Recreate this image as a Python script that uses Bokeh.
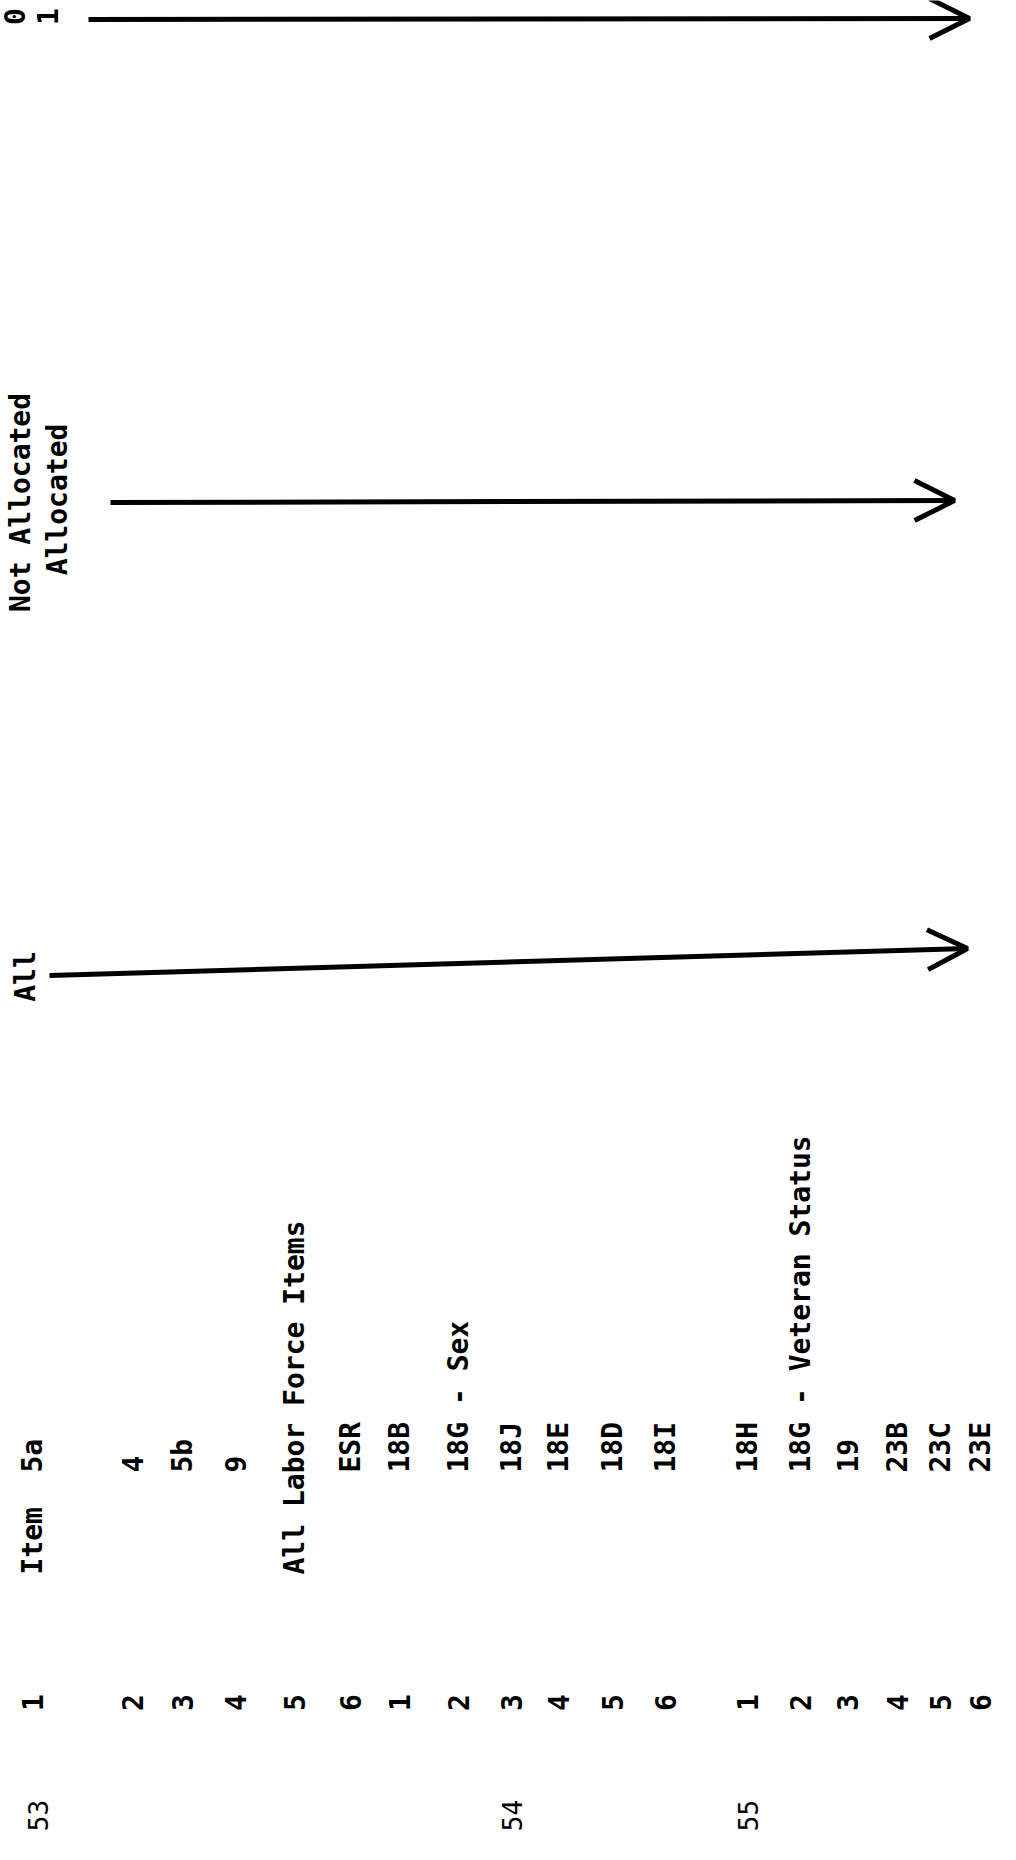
import math
from bokeh.plotting import figure
from bokeh.models import Range1d, ColumnDataSource, Arrow, OpenHead
from bokeh.core.properties import value
from bokeh.embed import file_html
from bokeh.resources import INLINE

# ---------------- data ----------------
group_labels = ["53", "54", "55"]
row_numbers = ["1", "2", "3", "4", "5", "6",
               "1", "2", "3", "4", "5", "6",
               "1", "2", "3", "4", "5", "6"]
row_headings = ["Item", "", "", "", "All Labor Force Items", "",
                "", "", "", "", "", "",
                "", "", "", "", "", ""]
row_codes = ["5a", "4", "5b", "9", "", "ESR",
             "18B", "18G - Sex", "18J", "18E", "18D", "18I",
             "18H", "18G - Veteran Status", "19", "23B", "23C", "23E"]
arrow_labels = [["0", "1"], ["Not Allocated", "Allocated"], ["All"]]

# ---------------- layout (page pixels) ----------------
ROW_X = [40, 140, 190, 243, 302, 358,
         407, 466, 519, 566, 620, 673,
         755, 808, 855, 905, 948, 988]
GROUP_X = [45, 519, 755]
Y_NUM = 1710
Y_HEAD = 1582
Y_CODE = 1480
Y_GROUP = 1823

ARROW_START = [(96, 27), (118, 510), (57, 983)]
ARROW_END = [(977, 26), (962, 508), (975, 956)]
LABEL_POS = [[(22, 24), (55, 24)], [(28, 510), (65, 507)], [(33, 984)]]

FONT = value("DejaVu Sans Mono")
INK = "#000000"

p = figure(width=1000, height=1844, output_backend="svg", toolbar_location=None,
           x_range=Range1d(8, 1008), y_range=Range1d(1852, 8),
           min_border=0, outline_line_color=None, background_fill_color="white",
           border_fill_color="white")
p.axis.visible = False
p.grid.visible = False

# arrows
arrow_src = ColumnDataSource(dict(
    x0=[s[0] for s in ARROW_START], y0=[s[1] for s in ARROW_START],
    x1=[e[0] for e in ARROW_END], y1=[e[1] for e in ARROW_END]))
p.add_layout(Arrow(end=OpenHead(size=40, line_width=5, line_color=INK),
                   x_start="x0", y_start="y0", x_end="x1", y_end="y1",
                   source=arrow_src, line_width=5, line_color=INK))

# arrow labels
lx, ly, lt = [], [], []
for labels, pos in zip(arrow_labels, LABEL_POS):
    for t, (x, y) in zip(labels, pos):
        lx.append(x); ly.append(y); lt.append(t)
p.text(x=lx, y=ly, text=lt, angle=math.pi / 2, text_align="center",
       text_baseline="middle", text_font=FONT, text_font_style="bold",
       text_font_size="28px", text_color=INK)

# row numbers
p.text(x=ROW_X, y=[Y_NUM] * len(ROW_X), text=row_numbers, angle=math.pi / 2,
       text_align="center", text_baseline="middle", text_font=FONT,
       text_font_style="bold", text_font_size="28px", text_color=INK)

# headings
hx = [x for x, t in zip(ROW_X, row_headings) if t]
ht = [t for t in row_headings if t]
p.text(x=hx, y=[Y_HEAD] * len(hx), text=ht, angle=math.pi / 2,
       text_align="left", text_baseline="middle", text_font=FONT,
       text_font_style="bold", text_font_size="28px", text_color=INK)

# codes
cx = [x for x, t in zip(ROW_X, row_codes) if t]
ct = [t for t in row_codes if t]
p.text(x=cx, y=[Y_CODE] * len(cx), text=ct, angle=math.pi / 2,
       text_align="left", text_baseline="middle", text_font=FONT,
       text_font_style="bold", text_font_size="28px", text_color=INK)

# group labels
p.text(x=GROUP_X, y=[Y_GROUP] * len(GROUP_X), text=group_labels, angle=math.pi / 2,
       text_align="center", text_baseline="middle", text_font=FONT,
       text_font_size="26px", text_color=INK)

open("out.html", "w").write(file_html(p, INLINE))
